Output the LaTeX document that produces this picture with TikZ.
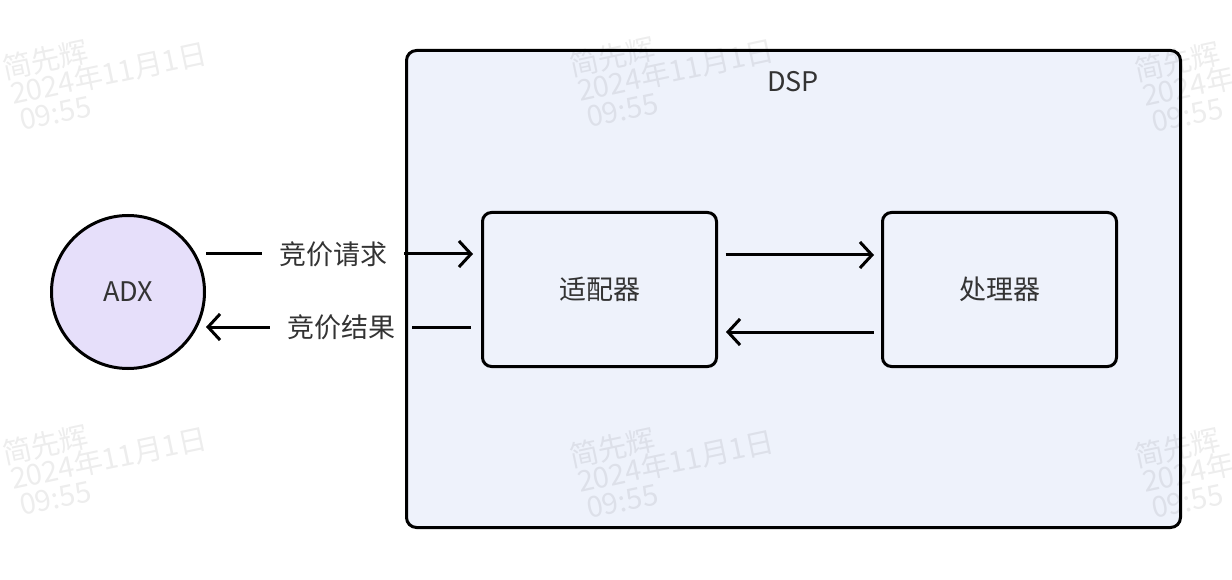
\documentclass[tikz,border=0pt]{standalone}
\usepackage{fontspec}
\setmainfont{Noto Sans CJK SC}
\usetikzlibrary{arrows.meta,calc}
\definecolor{dspfill}{HTML}{EEF2FB}
\definecolor{adxfill}{HTML}{E6DFFA}
\definecolor{txt}{HTML}{333333}
\tikzset{
  lbl/.style={text=txt, font=\fontsize{27}{32}\selectfont, inner sep=0pt},
  box/.style={lbl, draw=black, line width=3pt, rounded corners=9pt, fill=dspfill,
    minimum width=234pt, minimum height=154pt},
  adxnode/.style={lbl, draw=black, line width=3pt, circle, fill=adxfill, minimum size=153pt},
  edgelbl/.style={lbl, inner xsep=17pt, inner ysep=4pt},
  conn/.style={draw=black, line width=3pt},
  tip/.style={-{Straight Barb[length=12pt,width=26pt]}},
  wm/.style={text=black, opacity=0.07, font=\fontsize{29}{30}\selectfont, rotate=12, anchor=base west, inner sep=0pt},
}
\begin{document}
\begin{tikzpicture}[x=1pt,y=-1pt]
\useasboundingbox (0,0) rectangle (1232,580);
% DSP container
\draw[line width=3pt, rounded corners=10pt, fill=dspfill] (406.5,50.5) rectangle (1180.5,527.5);
\node[lbl] (dsp) at (793,82) {DSP};
% nodes
\node[adxnode] (adx) at (128,292) {ADX};
\node[box] (adapter) at (599.5,289.5) {适配器};
\node[box] (proc) at (999.5,289.5) {处理器};
\node[edgelbl] (req) at (333,254) {竞价请求};
\node[edgelbl] (res) at (341,327) {竞价结果};
\coordinate (y1) at (0,255);
\coordinate (y2) at (0,332);
% connectors
\draw[conn] (adx.east |- req) -- (req);
\draw[conn, tip, shorten >=8pt] (req) -- (adapter.west |- req);
\draw[conn, shorten <=10.5pt] (adapter.west |- res) -- (res);
\draw[conn, tip] (res) -- (adx.east |- res);
\draw[conn, tip, shorten <=7.5pt, shorten >=7pt] (adapter.east |- y1) -- (proc.west |- y1);
\draw[conn, tip, shorten <=7.5pt, shorten >=8pt] (proc.west |- y2) -- (adapter.east |- y2);
% watermarks
\foreach \dx/\dy in {0/0, 567/-3, 1132/2, 0/385, 567/388, 1132/388}{
  \node[wm] at (5+\dx,80+\dy) {简先辉};
  \node[wm] at (13+\dx,105+\dy) {2024年11月1日};
  \node[wm] at (22+\dx,131+\dy) {09:55};
}
\end{tikzpicture}
\end{document}
